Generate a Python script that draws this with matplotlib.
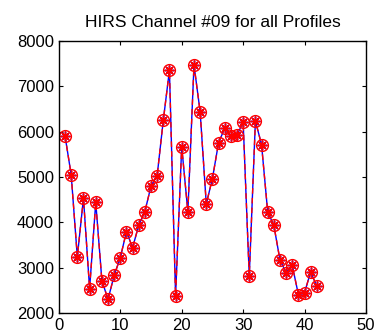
import matplotlib
matplotlib.use("Agg")
import matplotlib.pyplot as plt

plt.rcParams['font.family'] = ['Liberation Sans', 'DejaVu Sans']

profile = list(range(1, 43))
radiance = [5905, 5050, 3240, 4530, 2535, 4440, 2715, 2300, 2830, 3220,
            3795, 3440, 3935, 4235, 4800, 5030, 6250, 7355, 2375, 5670,
            4235, 7470, 6440, 4405, 4965, 5755, 6075, 5905, 5920, 6215,
            2815, 6235, 5715, 4230, 3935, 3170, 2890, 3050, 2405, 2450,
            2905, 2590]
xticks = [0, 10, 20, 30, 40, 50]
yticks = [2000, 3000, 4000, 5000, 6000, 7000, 8000]

asterisk = (8, 2, 0)

fig = plt.figure(figsize=(3.8, 3.36), dpi=100)
ax = fig.add_axes([0.155, 0.0685, 0.808, 0.8095])

ax.plot(profile, radiance, '-', color='blue', lw=1.0,
        marker=asterisk, ms=7, mec='blue', mew=1.0)
ax.plot(profile, radiance, '--', color='red', lw=1.0, dashes=(4, 3),
        marker='o', ms=8.5, mfc='none', mec='red', mew=1.0)
ax.plot(profile, radiance, ls='none', marker=asterisk, ms=7,
        mec='red', mew=1.0)

ax.set_xlim(0, 50)
ax.set_ylim(2000, 8000)
ax.set_xticks(xticks)
ax.set_yticks(yticks)
ax.tick_params(direction='in', top=True, right=True, labelsize=12,
               length=3, width=0.8)
for s in ax.spines.values():
    s.set_linewidth(1.0)
ax.set_title('HIRS Channel #09 for all Profiles', fontsize=12.5, pad=10)

fig.savefig('out.png', dpi=100)
